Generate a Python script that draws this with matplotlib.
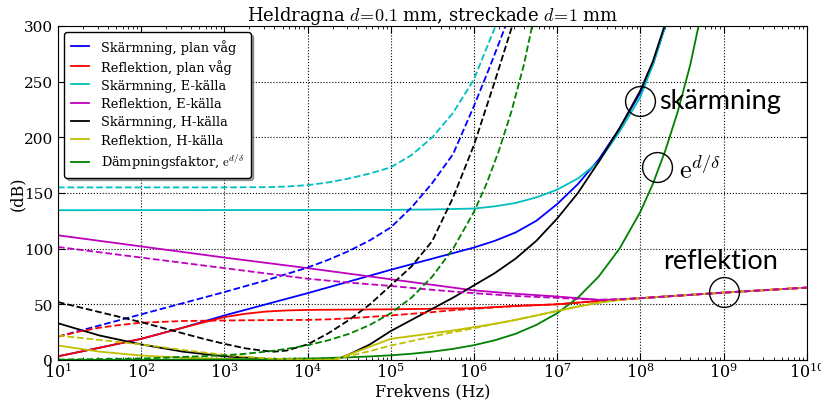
import numpy as np
import matplotlib.pyplot as plt
from matplotlib.ticker import LogLocator

plt.rcParams['font.family'] = 'serif'
plt.rcParams['font.serif'] = ['DejaVu Serif']
plt.rcParams['mathtext.fontset'] = 'cm'

# frekvenser anges som exponenter (10**e Hz), värden i dB
# --- d = 0.1 mm (heldragna) ---
e_skarm_plan = [1, 1.5, 2, 2.5, 3, 3.5, 4, 4.5, 5, 5.5, 6, 6.25, 6.5, 6.75, 7, 7.25, 7.5, 7.75, 8, 8.15, 8.3]
skarm_plan = [3.3, 11, 19, 29, 40, 50, 60, 70.5, 81, 91, 101, 107, 114.5, 125, 140, 158, 180, 208, 240, 265, 300]

e_refl_plan = [1, 1.5, 2, 2.5, 3, 3.25, 3.5, 3.75, 4, 5, 6, 6.5, 7, 7.5, 8, 9, 10]
refl_plan = [3.3, 11, 19, 29, 38.5, 41.5, 43.5, 44.5, 45, 45.5, 46.5, 48.5, 50, 53, 55.5, 60.5, 65]

e_skarm_E = [1, 5, 5.5, 6, 6.25, 6.5, 6.75, 7, 7.25, 7.5, 7.75, 8, 8.15, 8.3]
skarm_E = [134.5, 134.8, 135.2, 136, 138, 141, 146, 153, 163, 178, 205, 236, 265, 300]

e_refl_E = [1, 2, 3, 4, 5, 6, 6.5, 7, 7.25, 7.5, 7.75, 8, 9, 10]
refl_E = [112, 102, 92, 82.5, 72.5, 62.5, 59.5, 57, 55.5, 54, 54.2, 55.5, 60.5, 65]

e_skarm_H = [1, 1.5, 2, 2.5, 3, 3.5, 4, 4.25, 4.4, 4.5, 4.75, 5, 5.25, 5.5, 5.75, 6, 6.25, 6.5,
             6.75, 7, 7.25, 7.5, 7.75, 8, 8.15, 8.29]
skarm_H = [33, 22, 14, 7.5, 3.3, 1, 0.2, 0.3, 2, 5, 14, 26, 36, 46, 56, 67, 78, 91,
           107, 127, 150, 178, 208, 242, 268, 300]

e_refl_H = [1, 1.5, 2, 2.5, 3, 3.5, 4, 4.35, 4.5, 4.75, 5, 5.25, 5.5, 5.75, 6, 6.25, 6.5, 6.75,
            7, 7.25, 7.5, 7.75, 8, 9, 10]
refl_H = [13, 7.5, 4, 2, 1, 0.5, 0.3, 0.5, 5, 12, 19, 21.5, 24, 26.5, 29.5, 32.5, 36, 40,
          44, 48, 51.5, 54, 55.5, 60.5, 65]

e_damp = [1, 2, 3, 4, 4.25, 4.5, 4.75, 5, 5.25, 5.5, 5.75, 6, 6.25, 6.5, 6.75, 7, 7.25, 7.5,
          7.75, 8, 8.15, 8.3, 8.45, 8.6, 8.7]
damp = [0.04, 0.13, 0.42, 1.3, 1.8, 2.4, 3.2, 4.2, 5.6, 7.5, 10, 13.3, 17.7, 23.5, 31.5, 42, 56, 75,
        100, 133, 158, 188, 223, 265, 300]

# --- d = 1 mm (streckade) ---
e_skarm_plan_1 = [1, 1.5, 2, 2.5, 3, 3.5, 4, 4.25, 4.5, 4.75, 5, 5.25, 5.5, 5.75, 6, 6.2, 6.38]
skarm_plan_1 = [21, 31, 41, 51, 61, 71.5, 83, 90, 98, 107.5, 119, 137, 159, 185, 228, 265, 300]

e_refl_plan_1 = [1, 1.25, 1.5, 1.75, 2, 2.5, 3, 3.5, 4, 4.25, 4.5, 4.75, 5, 5.25, 5.5, 5.75, 6,
                 6.5, 7, 7.5, 8, 9, 10]
refl_plan_1 = [21, 25.5, 29, 31.5, 33.5, 35, 35.5, 35.8, 36, 36.5, 37.5, 38.7, 40, 41.5, 43, 44.7, 46,
               48.5, 50, 53, 55.5, 60.5, 65]

e_skarm_E_1 = [1, 3, 3.5, 3.75, 4, 4.25, 4.5, 4.75, 5, 5.25, 5.5, 5.75, 6, 6.26]
skarm_E_1 = [155, 155, 155.2, 155.8, 157, 159.5, 163, 167.5, 173, 184, 200, 222, 252, 300]

e_refl_E_1 = [1, 2, 3, 4, 4.5, 5, 5.5, 6, 6.5, 7, 7.5, 8, 9, 10]
refl_E_1 = [101.5, 92, 82.5, 73, 69.5, 66.5, 63, 60, 57.5, 55.8, 54, 55.5, 60.5, 65]

e_skarm_H_1 = [1, 1.25, 1.5, 1.75, 2, 2.25, 2.5, 2.75, 3, 3.25, 3.5, 3.6, 3.75, 4, 4.25, 4.5, 4.75,
               5, 5.25, 5.5, 5.75, 6, 6.25, 6.46]
skarm_H_1 = [52, 47.5, 43, 38.5, 34, 29, 24, 19, 14.5, 10.5, 8, 7.5, 8.5, 14, 24, 36, 50,
             67, 84, 107, 146, 193, 250, 300]

e_refl_H_1 = [1, 1.5, 2, 2.5, 3, 3.5, 4, 4.3, 4.5, 4.75, 5, 5.25, 5.5, 5.75, 6, 6.25, 6.5, 6.75,
              7, 7.25, 7.5, 7.75, 8, 9, 10]
refl_H_1 = [22, 18, 14, 9, 4.5, 1.5, 0.3, 0.5, 3.5, 8, 13, 17, 21, 25, 28.5, 32.5, 36, 40,
            44, 48, 51.5, 54, 55.5, 60.5, 65]

e_damp_1 = [1, 2, 3, 3.25, 3.5, 3.75, 4, 4.25, 4.5, 4.75, 5, 5.25, 5.5, 5.75, 6, 6.15, 6.3,
            6.45, 6.6, 6.7]
damp_1 = [0.42, 1.3, 4.2, 5.6, 7.5, 10, 13.3, 17.7, 23.5, 31.5, 42, 56, 75, 100, 133, 158, 188,
          223, 265, 300]

yellow = (0.75, 0.75, 0)

solid = [
    (e_skarm_plan, skarm_plan, 'b', u'Skärmning, plan våg'),
    (e_refl_plan, refl_plan, 'r', u'Reflektion, plan våg'),
    (e_skarm_E, skarm_E, 'c', u'Skärmning, E-källa'),
    (e_refl_E, refl_E, 'm', u'Reflektion, E-källa'),
    (e_skarm_H, skarm_H, 'k', u'Skärmning, H-källa'),
    (e_refl_H, refl_H, yellow, u'Reflektion, H-källa'),
    (e_damp, damp, 'g', u'Dämpningsfaktor, $\\mathrm{e}^{d/\\delta}$'),
]
dashed = [
    (e_skarm_plan_1, skarm_plan_1, 'b'),
    (e_refl_plan_1, refl_plan_1, 'r'),
    (e_skarm_E_1, skarm_E_1, 'c'),
    (e_refl_H_1, refl_H_1, yellow),
    (e_refl_E_1, refl_E_1, 'm'),
    (e_skarm_H_1, skarm_H_1, 'k'),
    (e_damp_1, damp_1, 'g'),
]

fig = plt.figure(figsize=(8.21, 4.02), dpi=100)
ax = fig.add_axes([0.0706, 0.102, 0.912, 0.831])

for e, v, c, lab in solid:
    ax.plot(10.0 ** np.array(e), v, '-', color=c, lw=1.3, label=lab)
for e, v, c in dashed:
    ax.plot(10.0 ** np.array(e), v, '--', color=c, lw=1.3)

# markeringar
ax.plot([1e8, 10 ** 8.2, 1e9], [233, 173, 61], 'o', mfc='none', mec='k', ms=21.5, mew=1)
ax.text(10 ** 8.22, 233, u'skärmning', family='Lato', fontsize=19.5, va='center')
ax.text(10 ** 8.47, 172, r'$\mathrm{e}^{d/\delta}$', fontsize=19, va='center')
ax.text(10 ** 8.27, 89, u'reflektion', family='Lato', fontsize=19.5, va='center')

ax.set_xscale('log')
ax.set_xlim(1e1, 1e10)
ax.set_ylim(0, 300)
ax.xaxis.set_major_locator(LogLocator(base=10, numticks=20))
ax.xaxis.set_minor_locator(LogLocator(base=10, subs=np.arange(2, 10), numticks=20))
ax.grid(True, which='major', ls=':', color='k', lw=0.8)
ax.tick_params(which='both', direction='in', top=True, right=True)
ax.tick_params(axis='x', labelsize=11.5, pad=1.5)
ax.tick_params(axis='y', labelsize=11)
ax.tick_params(which='major', length=5)
ax.tick_params(which='minor', length=2.5)
ax.set_xlabel('Frekvens (Hz)', fontsize=11.5)
ax.xaxis.set_label_coords(0.5, -0.068)
ax.set_ylabel('(dB)', fontsize=11.5)
ax.yaxis.set_label_coords(-0.043, 0.5)
ax.set_title(r'Heldragna $d\!=\!0.1$ mm, streckade $d\!=\!1$ mm', fontsize=13, pad=3)

leg = ax.legend(loc='upper left', fontsize=9.3, shadow=True, fancybox=True,
                framealpha=1, edgecolor='k', borderpad=0.5, labelspacing=0.4,
                handlelength=1.4, handletextpad=0.95, borderaxespad=0.5)
leg.get_frame().set_linewidth(1)

fig.savefig('out.png', dpi=100)
